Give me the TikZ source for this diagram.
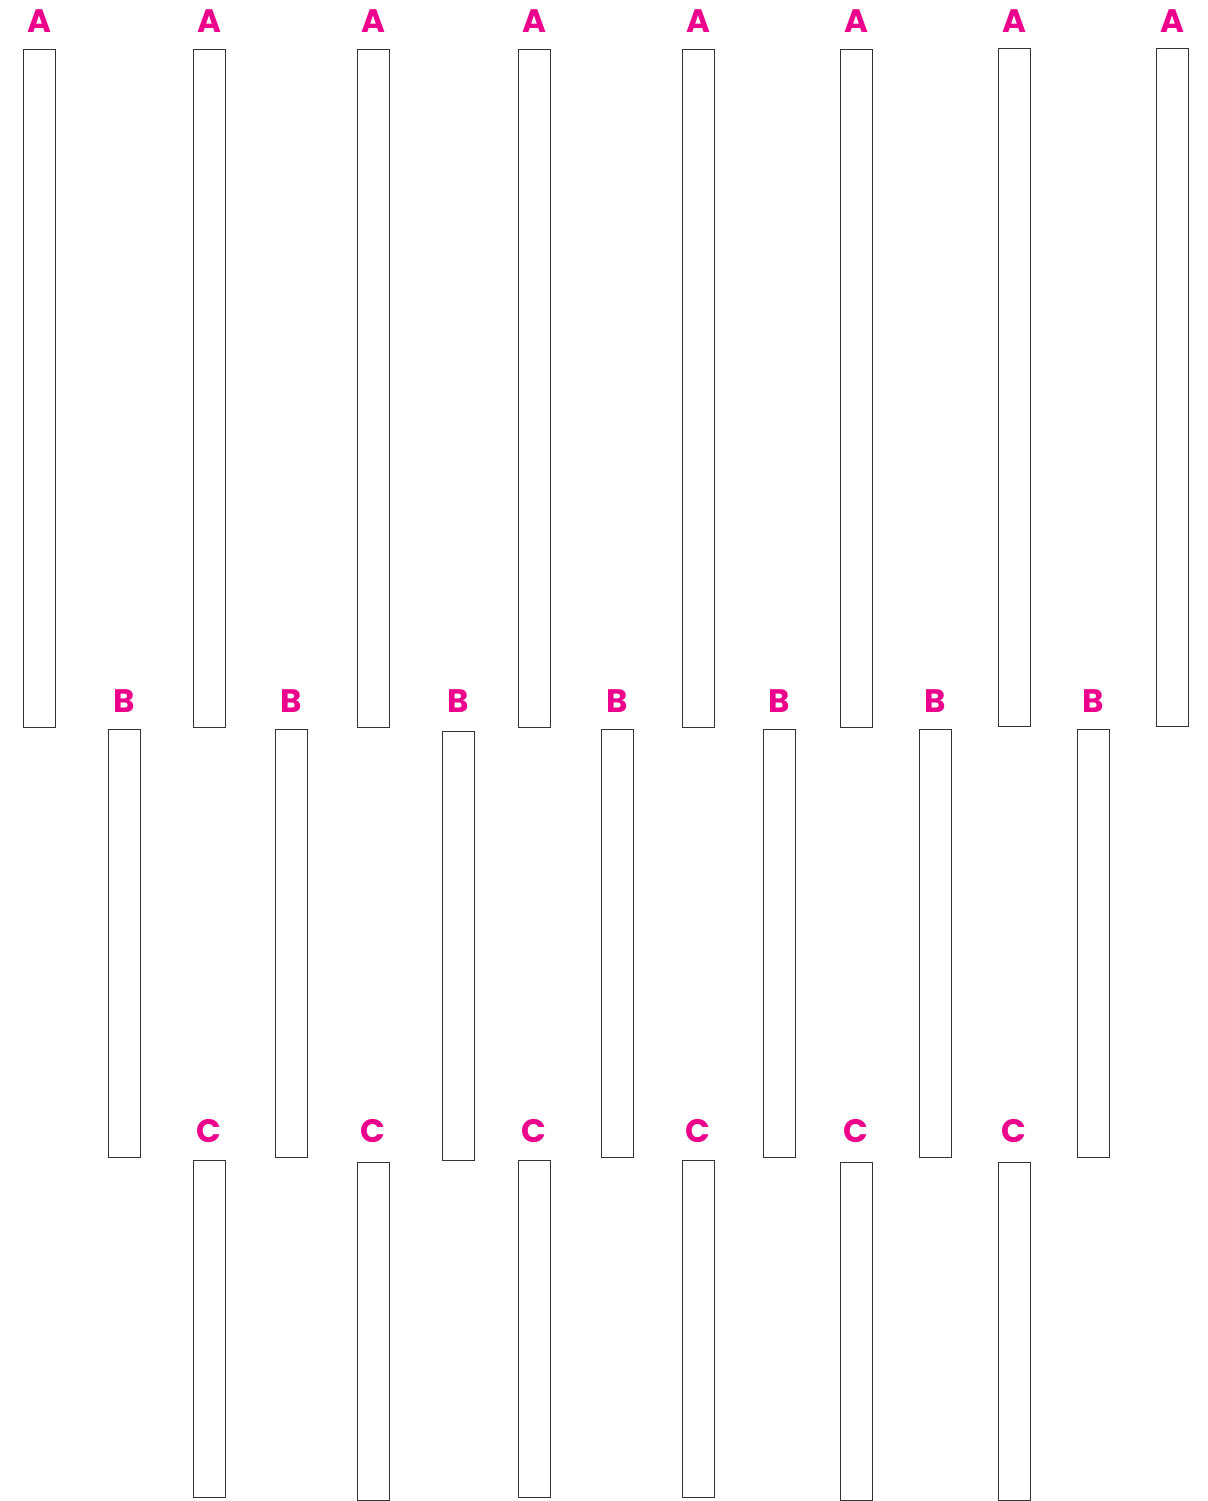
\documentclass[tikz,border=0pt]{standalone}
\usepackage{fontspec}
\newfontfamily\lblfont{Poppins}
\usepackage{tikz}
\usetikzlibrary{positioning}
\definecolor{lblMagenta}{HTML}{EC008C}
\definecolor{barEdge}{HTML}{333333}

\begin{document}
\begin{tikzpicture}[x=0.02cm, y=-0.02cm,
  bar/.style={draw=barEdge, line width=0.55pt, fill=white, minimum width=0.64cm, inner sep=0pt, outer sep=0pt},
  lbl/.style={font=\lblfont\bfseries\fontsize{18.5}{18.5}\selectfont, text=lblMagenta, inner sep=0pt, anchor=base}]
\useasboundingbox (0,0) rectangle (1207,1501);
% row A
\foreach \n/\x/\t/\b in {1/39.5/49/727, 2/209/49/727, 3/373/49/727, 4/534/49/727, 5/698/49/727, 6/856/49/727, 7/1014/48/726, 8/1172/48/726}{
  \node[bar, minimum height={(\b-\t)*0.02cm}] (a\n) at (\x,{(\t+\b)/2}) {};
  \node[lbl] (la\n) at (a\n.north |- 0,32) {A};
}
% row B
\foreach \n/\x/\t/\b in {1/124/729/1157, 2/291/729/1157, 3/458/731/1160, 4/617/729/1157, 5/779/729/1157, 6/935/729/1157, 7/1093/729/1157}{
  \node[bar, minimum height={(\b-\t)*0.02cm}] (b\n) at (\x,{(\t+\b)/2}) {};
  \node[lbl] (lb\n) at (b\n.north |- 0,712) {B};
}
% row C
\foreach \n/\x/\t/\b in {1/209/1160/1497, 2/373/1162/1500, 3/534/1160/1497, 4/698/1160/1497, 5/856/1162/1500, 6/1014/1162/1500}{
  \node[bar, minimum height={(\b-\t)*0.02cm}] (c\n) at (\x,{(\t+\b)/2}) {};
  \node[lbl] (lc\n) at (c\n.north |- 0,1142) {C};
}
\end{tikzpicture}
\end{document}
